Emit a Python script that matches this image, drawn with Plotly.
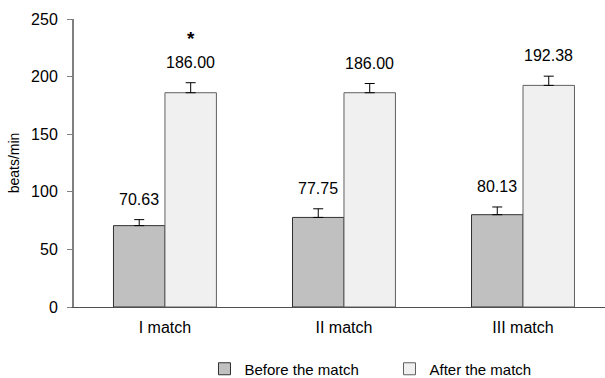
import plotly.graph_objects as go

categories = ["I match", "II match", "III match"]
before_vals = [70.63, 77.75, 80.13]
after_vals = [186.00, 186.00, 192.38]
before_err = [5.2, 7.5, 6.7]
after_err = [8.7, 8.0, 8.0]
series_names = ["Before the match", "After the match"]
y_ticks = [0, 50, 100, 150, 200, 250]

FONT = "Liberation Sans, Arial, sans-serif"

fig = go.Figure()
fig.add_trace(go.Bar(
    name=series_names[0], x=categories, y=before_vals,
    marker=dict(color="#c0c0c0", line=dict(color="#303030", width=1)),
    error_y=dict(type="data", array=before_err, symmetric=False, arrayminus=[0, 0, 0],
                 color="#000000", thickness=1, width=5),
))
fig.add_trace(go.Bar(
    name=series_names[1], x=categories, y=after_vals,
    marker=dict(color="#f0f0f0", line=dict(color="#606060", width=1)),
    error_y=dict(type="data", array=after_err, symmetric=False, arrayminus=[0, 0, 0],
                 color="#000000", thickness=1, width=5),
))

# value labels above error bars
offsets = [-0.144, 0.144]
for vals, errs, off in [(before_vals, before_err, offsets[0]), (after_vals, after_err, offsets[1])]:
    for i, (v, e) in enumerate(zip(vals, errs)):
        fig.add_annotation(x=i + off, y=v + e, text=f"{v:.2f}", showarrow=False,
                           yanchor="bottom", yshift=10,
                           font=dict(family=FONT, size=16, color="#000000"))

# significance marker
fig.add_annotation(x=0 + offsets[1], y=after_vals[0] + after_err[0], text="<b>*</b>",
                   showarrow=False, yanchor="bottom", yshift=32,
                   font=dict(family=FONT, size=19, color="#000000"))

fig.update_layout(
    width=605, height=378,
    margin=dict(l=74, r=0, t=19, b=71),
    paper_bgcolor="white", plot_bgcolor="white",
    barmode="group", bargap=0.425, bargroupgap=0,
    font=dict(family=FONT, size=16, color="#000000"),
    showlegend=True,
    legend=dict(orientation="h", xref="container", yref="container",
                x=0.338, xanchor="left", y=1 - 369 / 378, yanchor="middle",
                entrywidth=140, entrywidthmode="pixels",
                font=dict(family=FONT, size=15, color="#000000"),
                itemwidth=30),
    xaxis=dict(range=[-0.508, 2.458], showline=True, linecolor="#505050", linewidth=1,
               ticks="", showgrid=False, zeroline=False, ticklabelstandoff=6,
               tickfont=dict(family=FONT, size=16)),
    yaxis=dict(range=[0, 250], tickvals=y_ticks, showline=True, linecolor="#808080",
               linewidth=2, ticks="outside", ticklen=5, tickcolor="#808080",
               showgrid=False, zeroline=False, ticklabelstandoff=6,
               tickfont=dict(family=FONT, size=16),
               title=dict(text="beats/min", font=dict(family=FONT, size=14), standoff=8)),
)

fig.write_html("out.html")
